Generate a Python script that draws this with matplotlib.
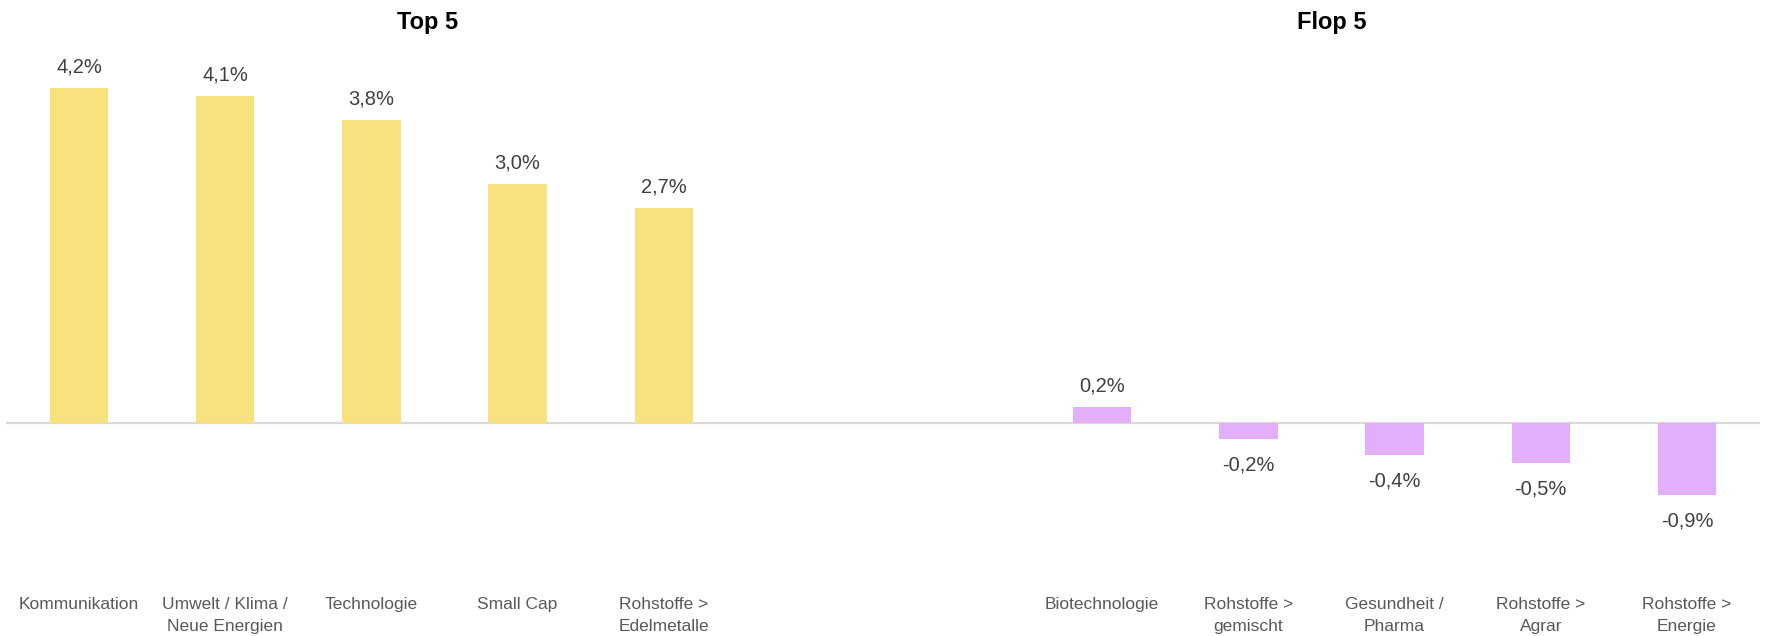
import matplotlib
import matplotlib.pyplot as plt

matplotlib.use("Agg")
plt.rcParams["font.family"] = ["Liberation Sans", "DejaVu Sans"]

# ── Data ────────────────────────────────────────────────────────────────
top_labels = ["Kommunikation", "Umwelt / Klima /\nNeue Energien", "Technologie",
              "Small Cap", "Rohstoffe >\nEdelmetalle"]
top_values = [4.2, 4.1, 3.8, 3.0, 2.7]

flop_labels = ["Biotechnologie", "Rohstoffe >\ngemischt", "Gesundheit /\nPharma",
               "Rohstoffe >\nAgrar", "Rohstoffe >\nEnergie"]
flop_values = [0.2, -0.2, -0.4, -0.5, -0.9]

YELLOW = "#F8E27D"
PURPLE = "#E3AFFB"


def fmt(v):
    return f"{v:.1f}%".replace(".", ",")


def main():
    fig = plt.figure(figsize=(17.67, 6.36), dpi=100)
    ax = fig.add_axes([6 / 1767, 1 - 580 / 636, 1754 / 1767, 540 / 636])

    top_x = list(range(5))
    flop_x = list(range(7, 12))
    ax.bar(top_x, top_values, width=0.4, color=YELLOW, zorder=2)
    ax.bar(flop_x, flop_values, width=0.4, color=PURPLE, zorder=2)

    for x, v in zip(top_x + flop_x, top_values + flop_values):
        off = 8 if v >= 0 else -12
        va = "bottom" if v >= 0 else "top"
        ax.annotate(fmt(v), (x, v), xytext=(0, off), textcoords="offset points",
                    ha="center", va=va, fontsize=14.5, color="#404040")

    ax.axhline(0, color="#D9D9D9", linewidth=1.6, zorder=1)
    ax.set_xlim(-0.5, 11.5)
    ax.set_ylim(-1.97, 4.8)
    ax.set_xticks(top_x + flop_x)
    ax.set_xticklabels(top_labels + flop_labels, fontsize=12.5, color="#595959",
                       linespacing=1.6)
    ax.tick_params(axis="x", length=0, pad=12)
    ax.set_yticks([])
    for s in ax.spines.values():
        s.set_visible(False)

    fig.text(428 / 1767, 1 - 22 / 636, "Top 5", ha="center", va="center",
             fontsize=17, fontweight="bold", color="black")
    fig.text(1332 / 1767, 1 - 22 / 636, "Flop 5", ha="center", va="center",
             fontsize=17, fontweight="bold", color="black")

    fig.savefig("out.png", dpi=100)
    plt.close(fig)


if __name__ == "__main__":
    main()
